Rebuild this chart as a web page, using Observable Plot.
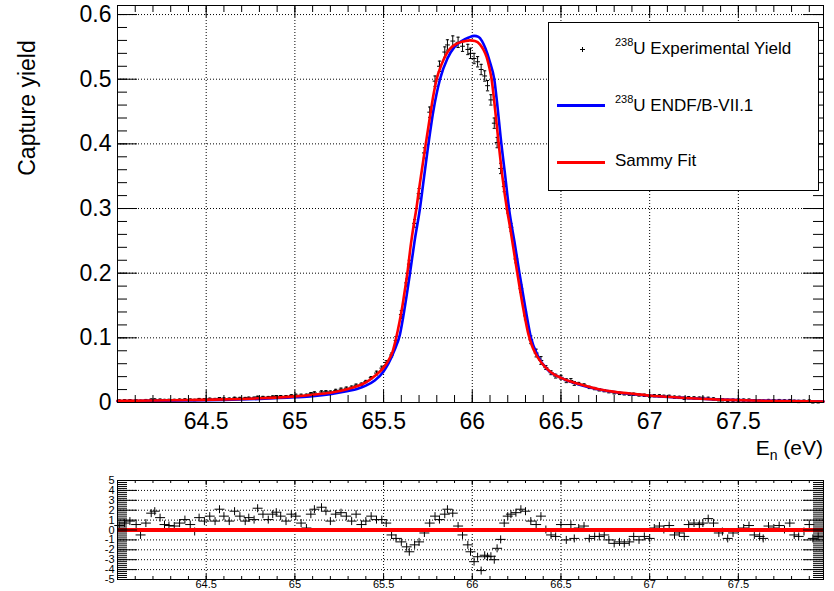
<!DOCTYPE html>
<html><head><meta charset="utf-8">
<script src="https://cdn.jsdelivr.net/npm/d3@7"></script>
<script src="https://cdn.jsdelivr.net/npm/@observablehq/plot@0.6"></script>
<style>
body{margin:0;background:#fff;}
#wrap{position:relative;width:834px;height:591px;overflow:hidden;font-family:"Liberation Sans",Arial,sans-serif;background:#fff;}
#wrap svg{display:block;position:absolute;left:0;}
.lbl{position:absolute;color:#000;white-space:nowrap;}
</style></head><body><div id="wrap"></div>
<script>
// ---- Experimental points (energy in eV), yield and normalized residuals ----
const energy = [64.01,64.04,64.07,64.105,64.13,64.16,64.19,64.21,64.24,64.265,64.29,64.32,64.35,64.38,64.41,64.435,64.46,64.49,64.52,64.55,64.575,64.6,64.63,64.66,64.69,64.72,64.74,64.77,64.79,64.82,64.85,64.875,64.895,64.92,64.95,64.98,65.005,65.035,65.065,65.09,65.11,65.15,65.175,65.2,65.23,65.26,65.29,65.32,65.345,65.375,65.4,65.43,65.46,65.49,65.515,65.545,65.57,65.6,65.63,65.645,65.675,65.7,65.73,65.76,65.79,65.815,65.845,65.86,65.89,65.92,65.945,65.975,65.99,66.01,66.03,66.05,66.07,66.086,66.105,66.124,66.14,66.16,66.18,66.2,66.218,66.246,66.274,66.3,66.33,66.36,66.387,66.415,66.444,66.47,66.5,66.53,66.556,66.575,66.6,66.63,66.66,66.69,66.716,66.744,66.77,66.8,66.83,66.857,66.885,66.91,66.94,66.97,67.0,67.026,67.055,67.08,67.11,67.14,67.167,67.195,67.22,67.25,67.28,67.3,67.33,67.36,67.39,67.41,67.44,67.47,67.5,67.53,67.56,67.59,67.62,67.64,67.67,67.7,67.73,67.76,67.79,67.815,67.84,67.87,67.9,67.92,67.95];
const yieldExp = [0.0029,0.0032,0.0033,0.0031,0.0024,0.0035,0.0044,0.0045,0.0042,0.0037,0.0038,0.0038,0.0042,0.0046,0.0043,0.0038,0.0051,0.0049,0.0056,0.0052,0.0065,0.0061,0.0058,0.0070,0.0068,0.0067,0.0072,0.0072,0.0086,0.0083,0.0082,0.0091,0.0096,0.0096,0.0096,0.0109,0.0112,0.0111,0.0112,0.0136,0.0148,0.0163,0.0166,0.0161,0.0186,0.0205,0.0221,0.0237,0.0267,0.0283,0.0324,0.0384,0.0455,0.0532,0.0617,0.0735,0.096,0.136,0.185,0.214,0.277,0.323,0.386,0.449,0.497,0.52,0.542,0.553,0.559,0.557,0.551,0.546,0.540,0.532,0.527,0.515,0.505,0.490,0.468,0.432,0.402,0.362,0.334,0.299,0.271,0.222,0.176,0.134,0.097,0.0765,0.065,0.054,0.046,0.0408,0.039,0.0337,0.034,0.0295,0.0293,0.0271,0.0233,0.0215,0.0196,0.0183,0.0167,0.015,0.0141,0.0134,0.0128,0.0127,0.0116,0.0111,0.0099,0.0105,0.0103,0.0095,0.0095,0.0082,0.0079,0.0065,0.0074,0.0071,0.0067,0.0065,0.0064,0.0055,0.0042,0.0042,0.0033,0.0035,0.0036,0.0036,0.0036,0.0026,0.0024,0.0021,0.0030,0.0028,0.0029,0.0024,0.0029,0.0018,0.0016,0.0019,0.0022,0.0010,0.0011];
const residual = [0.45,0.7,0.9,0.55,-0.5,0.7,1.7,1.9,1.25,0.55,0.45,0.4,0.7,1.05,0.55,-0.15,1.25,0.9,1.4,0.9,2.1,1.4,0.9,1.9,1.4,0.9,1.25,1.05,2.2,1.6,1.05,1.6,1.8,1.4,0.9,1.6,1.4,0.7,0.2,1.6,2.1,2.3,1.9,0.9,1.6,1.75,1.4,0.9,1.6,0.55,0.9,1.4,1.05,1.05,0.7,-0.5,-0.85,-1.2,-1.7,-2.2,-1.5,-1.2,-0.3,0.7,1.4,1.05,1.6,2.1,1.7,0.4,-0.5,-1.5,-2.2,-3.2,-2.7,-4.1,-2.55,-2.7,-2.65,-3.0,-1.85,-0.95,0.7,1.4,1.6,1.75,2.1,1.9,0.9,0.55,1.4,0.05,-0.5,-0.65,0.55,-1.0,0.55,-0.85,0.2,0.4,-0.85,-0.65,-0.65,-0.5,-1.0,-1.35,-1.2,-1.35,-1.2,-0.65,-1.0,-0.65,-0.85,0.2,0.4,0.05,0.45,-0.5,-0.3,-0.65,0.55,0.7,0.55,0.7,1.15,0.7,-0.3,-0.15,-0.85,-0.3,0.05,0.2,0.45,-0.5,-0.65,-0.85,0.4,0.2,0.45,0.05,0.7,-0.5,-0.65,-0.15,0.55,-0.85,-0.65];
// statistical uncertainty of the yield by energy region
const errEdges = [65.0, 65.45, 65.55, 65.7, 66.2, 66.4, 66.6];
const errSizes = [0.0012, 0.0018, 0.003, 0.006, 0.008, 0.006, 0.003, 0.0018];

// ---- SAMMY fit curve ----
const fitE = [64.0,64.2,64.4,64.6,64.8,65.0,65.1,65.2,65.3,65.35,65.4,65.45,65.5,65.525,65.55,65.57,65.59,65.606,65.62,65.634,65.654,65.67,65.685,65.7,65.715,65.735,65.762,65.78,65.799,65.827,65.85,65.874,65.9,65.93,65.96,65.987,66.015,66.043,66.062,66.081,66.096,66.109,66.128,66.147,66.17,66.195,66.215,66.232,66.254,66.283,66.3,66.316,66.335,66.354,66.391,66.438,66.5,66.56,66.636,66.72,66.824,66.92,67.01,67.1,67.2,67.39,67.576,67.75,67.98];
const fitY = [0.0025,0.003,0.0038,0.0048,0.0065,0.0095,0.012,0.015,0.021,0.025,0.031,0.041,0.054,0.064,0.078,0.099,0.125,0.149,0.174,0.2,0.245,0.275,0.3,0.33,0.358,0.395,0.443,0.474,0.5,0.523,0.537,0.547,0.553,0.557,0.559,0.56,0.559,0.554,0.546,0.534,0.518,0.5,0.455,0.405,0.349,0.3,0.268,0.238,0.2,0.152,0.127,0.106,0.089,0.077,0.061,0.048,0.038,0.032,0.026,0.02,0.0157,0.013,0.0105,0.0088,0.007,0.0045,0.003,0.0022,0.0015];

// ---- ENDF/B-VII.1 curve ----
const endfE = [64.0,64.2,64.4,64.6,64.8,65.0,65.1,65.2,65.3,65.35,65.4,65.45,65.5,65.527,65.56,65.592,65.62,65.649,65.675,65.705,65.725,65.748,65.78,65.818,65.86,65.9,65.94,65.98,66.012,66.035,66.055,66.075,66.1,66.124,66.142,66.16,66.185,66.207,66.24,66.266,66.3,66.331,66.37,66.42,66.5,66.6,66.7,66.82,67.0,67.2,67.4,67.6,67.8,67.98];
const endfY = [0.002,0.0025,0.003,0.004,0.0055,0.008,0.0098,0.013,0.018,0.021,0.026,0.034,0.048,0.06,0.08,0.105,0.148,0.2,0.25,0.3,0.342,0.39,0.45,0.5,0.532,0.55,0.559,0.5645,0.567,0.5655,0.559,0.547,0.526,0.5,0.458,0.41,0.352,0.3,0.245,0.2,0.145,0.1,0.072,0.052,0.038,0.028,0.021,0.0155,0.0105,0.007,0.0045,0.003,0.0022,0.0015];

// ---- axis ticks ----
const xTicks = [64.5, 65, 65.5, 66, 66.5, 67, 67.5];
const yTicks = [0, 0.1, 0.2, 0.3, 0.4, 0.5, 0.6];
const rTicks = [-5, -4, -3, -2, -1, 0, 1, 2, 3, 4, 5];
const xDomain = [64.0, 67.98];

const expData = energy.map((e, i) => ({E: e, Y: yieldExp[i], err: errSizes[d3.bisectRight(errEdges, e)], R: residual[i]}));
const fitData = fitE.map((e, i) => ({E: e, Y: fitY[i]}));
const endfData = endfE.map((e, i) => ({E: e, Y: endfY[i]}));

const hline = {draw(ctx, size){ const r = Math.sqrt(size/Math.PI); ctx.moveTo(-r,0); ctx.lineTo(r,0);} };
const vline = {draw(ctx, size){ const r = Math.sqrt(size/Math.PI); ctx.moveTo(0,-r); ctx.lineTo(0,r);} };

const FONT = "Liberation Sans, Arial, sans-serif";
const fmt = d => String(d);
const grid = {stroke: "black", strokeOpacity: 1, strokeDasharray: "1,2", strokeWidth: 1};
const K = {stroke: "black", strokeWidth: 1};

// top panel geometry
const T = {w: 834, h: 470, ml: 117, mr: 11, mt: 5, mb: 68};
const TW = T.w - T.ml - T.mr, TH = T.h - T.mt - T.mb;
const xMinor = d3.range(64.0, 67.99, 0.1);
const yMinor = d3.range(0, 0.6101, 0.02);

const topPlot = Plot.plot({
  width: T.w, height: T.h, marginLeft: T.ml, marginRight: T.mr, marginTop: T.mt, marginBottom: T.mb,
  x: {domain: xDomain, label: null},
  y: {domain: [0, 0.614], label: null},
  style: {fontFamily: FONT, fontSize: "23px", color: "black", background: "white", overflow: "visible"},
  marks: [
    Plot.gridX(xTicks, grid),
    Plot.gridY(yTicks.filter(d => d > 0), grid),
    Plot.ruleX(expData, {x: "E", y1: d => d.Y - d.err, y2: d => d.Y + d.err, ...K}),
    Plot.dot(expData, {x: "E", y: d => d.Y + d.err, symbol: hline, r: 1.6, fill: "none", ...K}),
    Plot.dot(expData, {x: "E", y: d => d.Y - d.err, symbol: hline, r: 1.6, fill: "none", ...K}),
    Plot.dot(expData, {x: "E", y: "Y", symbol: hline, r: 2.4, fill: "none", ...K}),
    Plot.line(endfData, {x: "E", y: "Y", stroke: "#0000ff", strokeWidth: 2.6, curve: "monotone-x"}),
    Plot.line(fitData, {x: "E", y: "Y", stroke: "#ff0000", strokeWidth: 2.6, curve: "monotone-x"}),
    // inward ticks
    Plot.tickY(yTicks, {y: d => d, insetRight: TW - 20, ...K}),
    Plot.tickY(yMinor, {y: d => d, insetRight: TW - 10, ...K}),
    Plot.tickY(yTicks, {y: d => d, insetLeft: TW - 20, ...K}),
    Plot.tickY(yMinor, {y: d => d, insetLeft: TW - 10, ...K}),
    Plot.tickX(xTicks, {x: d => d, insetTop: TH - 12, ...K}),
    Plot.tickX(xMinor, {x: d => d, insetTop: TH - 7, ...K}),
    Plot.tickX(xTicks, {x: d => d, insetBottom: TH - 12, ...K}),
    Plot.tickX(xMinor, {x: d => d, insetBottom: TH - 7, ...K}),
    Plot.frame({stroke: "black"}),
    Plot.axisX(xTicks, {tickSize: 0, tickPadding: 10, tickFormat: fmt, fontSize: 23, label: null}),
    Plot.axisY(yTicks, {tickSize: 0, tickPadding: 6, tickFormat: fmt, fontSize: 23, label: null})
  ]
});

// bottom (residual) panel geometry
const B = {w: 834, h: 121, ml: 117, mr: 11, mt: 10, mb: 12};
const BW = B.w - B.ml - B.mr, BH = B.h - B.mt - B.mb;
const rMinor = d3.range(-5, 5.01, 0.2);

const bottomPlot = Plot.plot({
  width: B.w, height: B.h, marginLeft: B.ml, marginRight: B.mr, marginTop: B.mt, marginBottom: B.mb,
  x: {domain: xDomain, label: null},
  y: {domain: [-5, 5], label: null},
  style: {fontFamily: FONT, fontSize: "11px", color: "black", background: "white", overflow: "visible"},
  marks: [
    Plot.gridX(xTicks, grid),
    Plot.gridY(rTicks.filter(d => Math.abs(d) < 5), grid),
    Plot.dot(expData, {x: "E", y: "R", symbol: hline, r: 5, fill: "none", ...K}),
    Plot.dot(expData, {x: "E", y: "R", symbol: vline, r: 4, fill: "none", ...K}),
    Plot.ruleY([0], {stroke: "#ff0000", strokeWidth: 4}),
    Plot.tickY(rTicks, {y: d => d, insetRight: BW - 20, ...K}),
    Plot.tickY(rMinor, {y: d => d, insetRight: BW - 10, ...K}),
    Plot.tickY(rTicks, {y: d => d, insetLeft: BW - 20, ...K}),
    Plot.tickY(rMinor, {y: d => d, insetLeft: BW - 10, ...K}),
    Plot.tickX(xTicks, {x: d => d, insetTop: BH - 5, ...K}),
    Plot.tickX(xMinor, {x: d => d, insetTop: BH - 3, ...K}),
    Plot.tickX(xTicks, {x: d => d, insetBottom: BH - 5, ...K}),
    Plot.tickX(xMinor, {x: d => d, insetBottom: BH - 3, ...K}),
    Plot.frame({stroke: "black"}),
    Plot.axisX(xTicks, {tickSize: 0, tickPadding: 1, tickFormat: fmt, fontSize: 11, label: null}),
    Plot.axisY(rTicks, {tickSize: 0, tickPadding: 3, tickFormat: fmt, fontSize: 11, label: null})
  ]
});

const wrap = document.getElementById("wrap");
topPlot.style.top = "0px";
bottomPlot.style.top = "470px";
wrap.appendChild(topPlot);
wrap.appendChild(bottomPlot);

// axis titles and legend (HTML overlay)
const html = `
<div class="lbl" style="left:27px;top:108px;font-size:23px;line-height:23px;transform:translate(-50%,-50%) rotate(-90deg);">Capture yield</div>
<div class="lbl" style="right:11px;top:437px;font-size:21px;line-height:21px;">E<span style="font-size:14px;position:relative;top:5px;">n</span> (eV)</div>
<div style="position:absolute;left:548px;top:22px;width:271px;height:169px;border:1px solid #000;background:#fff;box-sizing:border-box;"></div>
<div style="position:absolute;left:580px;top:49px;width:5px;height:1px;background:#000;"></div>
<div style="position:absolute;left:582px;top:47px;width:1px;height:5px;background:#000;"></div>
<div class="lbl" style="left:615px;top:40px;font-size:17px;line-height:17px;"><span style="font-size:11px;position:relative;top:-8px;">238</span>U Experimental Yield</div>
<div style="position:absolute;left:557px;top:104px;width:48px;height:3px;background:#0000ff;"></div>
<div class="lbl" style="left:615px;top:97px;font-size:17px;line-height:17px;"><span style="font-size:11px;position:relative;top:-8px;">238</span>U ENDF/B-VII.1</div>
<div style="position:absolute;left:557px;top:161px;width:48px;height:3px;background:#ff0000;"></div>
<div class="lbl" style="left:615px;top:152px;font-size:17px;line-height:17px;">Sammy Fit</div>
`;
wrap.insertAdjacentHTML("beforeend", html);
</script></body></html>
